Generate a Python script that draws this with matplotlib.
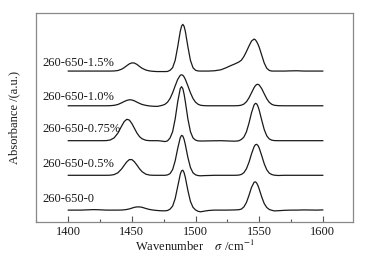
import matplotlib
matplotlib.use("Agg")
import matplotlib.pyplot as plt
from matplotlib.ticker import MultipleLocator

plt.rcParams['font.family'] = ['Liberation Serif', 'DejaVu Serif']
plt.rcParams['mathtext.fontset'] = 'stix'

wavenumber = [1400, 1410, 1420, 1425, 1430, 1433, 1436, 1439, 1442, 1444,
              1446, 1448, 1450, 1452, 1454, 1456, 1458, 1461, 1464, 1467,
              1470, 1472, 1474, 1476, 1478, 1480, 1482, 1484, 1486, 1488,
              1489, 1490, 1491, 1492, 1494, 1496, 1498, 1500, 1502, 1504,
              1507, 1510, 1515, 1520, 1524, 1528, 1531, 1534, 1536, 1538,
              1540, 1542, 1544, 1546, 1547, 1548, 1549, 1550, 1552, 1554,
              1556, 1558, 1560, 1562, 1565, 1570, 1575, 1580, 1585, 1590,
              1595, 1600]

abs_0 = [0, 0, 0.5, 0.3, 0, 0, 0, 0, 0.1, 0.3,
         0.65, 1.2, 2.0, 2.8, 3.2, 3.2, 2.8, 1.6, 0.6, 0.0,
         -0.4, -0.6, -0.7, -0.7, -0.4, 1.0, 4.0, 11.5, 23.6, 35.8,
         39.2, 39.9, 37.5, 32.6, 19.6, 8.7, 2.8, 0.2, -1.2, -1.7,
         -1.0, -0.4, 0, 0, 0, 0.1, 0.2, 0.4, 1.0, 3.2,
         7.6, 14.7, 22.7, 27.8, 28.3, 27.2, 24.7, 21.2, 13.2, 6.5,
         2.6, 0.6, -0.2, -0.8, -0.6, -0.2, 0, 0, 0.2, 0.1,
         0, 0.2]

abs_05 = [0, 0, 0, 0, 0, 0.1, 0.7, 2.5, 6.5, 10.1,
          13.5, 15.7, 15.7, 13.5, 10.1, 6.5, 3.6, 1.1, 0.2, 0,
          0, 0, 0, 0, 0.4, 1.7, 5.7, 14.4, 26.9, 37.6,
          39.9, 39.3, 36.0, 30.6, 17.8, 7.8, 2.5, 0.5, -0.3, -0.5,
          -0.3, -0.2, 0, 0, 0, 0, 0, 0.2, 0.85, 2.6,
          6.5, 13.0, 21.4, 28.5, 30.5, 31.0, 29.9, 27.4, 19.7, 11.5,
          5.5, 2.1, 0.7, 0.1, -0.2, 0, 0, 0, 0, 0,
          0, 0]

abs_075 = [0, 0, 0, 0, 0.1, 0.7, 2.8, 7.6, 14.8, 19.2,
           21.4, 20.6, 17.1, 12.3, 7.6, 4.0, 1.9, 0.4, 0, 0,
           0, -0.2, -0.5, -0.9, -0.2, 2.8, 9.0, 21.7, 38.9, 52.1,
           54.0, 52.1, 46.6, 38.9, 21.7, 9.0, 2.8, 0.6, -0.2, -0.3,
           -0.3, -0.2, -0.1, 0, -0.2, -0.4, -0.5, -0.1, 1.2, 3.6,
           8.8, 17.5, 27.9, 35.7, 37.3, 36.9, 34.6, 30.7, 20.6, 11.1,
           4.8, 1.7, 0.5, 0.1, 0, 0, 0, 0, 0, 0,
           0, 0]

abs_10 = [0, 0, 0, 0, 0, 0.1, 0.45, 1.3, 3.0, 4.3,
          5.4, 6.0, 5.8, 4.9, 3.6, 2.4, 1.3, 0.4, -0.2, -0.5,
          -0.6, -0.1, 0.5, 1.5, 3.6, 7.3, 13.0, 19.9, 26.4, 30.5,
          31.0, 30.5, 28.9, 26.4, 19.9, 13.0, 7.3, 3.6, 1.5, 0.5,
          0.1, 0, 0, 0, 0, 0, 0, 0.2, 0.6, 1.7,
          4.0, 7.9, 13.0, 18.1, 20.0, 21.2, 21.5, 20.8, 17.2, 12.0,
          7.0, 3.4, 1.4, 0.5, 0.1, 0, 0, 0, 0, 0,
          0, 0]

abs_15 = [0, 0, 0, 0, 0, 0, 0.1, 0.56, 1.9, 3.5,
          5.4, 7.2, 8.2, 8.0, 6.6, 4.6, 2.8, 1.0, 0.1, -0.3,
          -0.5, -0.5, -0.5, -0.5, -0.4, 0.8, 3.4, 10.7, 24.3, 39.7,
          44.8, 46.7, 44.8, 39.7, 24.3, 10.7, 3.4, 0.8, 0.1, 0,
          0, 0, 0.3, 1.3, 3.3, 5.6, 7.2, 9.0, 10.8, 14.5,
          19.5, 25.0, 30.0, 32.0, 31.3, 29.5, 27.0, 24.0, 16.0, 8.0,
          2.8, 0.6, 0, 0, 0, 0, 0.2, 0.3, 0, 0,
          0, 0]

labels = ['260-650-0', '260-650-0.5%', '260-650-0.75%', '260-650-1.0%', '260-650-1.5%']
series = [abs_0, abs_05, abs_075, abs_10, abs_15]
offsets = [12, 46.8, 81.4, 116.3, 151]
label_y = [23, 58, 92.7, 124.7, 159.3]

fig = plt.figure(figsize=(3.67, 2.61), dpi=100)
ax = fig.add_axes([0.098, 0.149, 0.864, 0.801])

for ys, off in zip(series, offsets):
    ax.plot(wavenumber, [v + off for v in ys], color='#1a1a1a', lw=0.9)

for lab, ly in zip(labels, label_y):
    ax.text(1379.9, ly, lab, ha='left', va='center', fontsize=9, color='#1a1a1a')

ax.set_xlim(1374.6, 1623.8)
ax.set_ylim(0, 209)
ax.set_yticks([])
ax.xaxis.set_major_locator(MultipleLocator(50))
ax.xaxis.set_minor_locator(MultipleLocator(25))
ax.set_xticks([1400, 1450, 1500, 1550, 1600])
ax.tick_params(axis='x', which='major', direction='in', length=4, width=0.8,
               color='#555555', labelsize=9, pad=3, labelcolor='#1a1a1a')
ax.tick_params(axis='x', which='minor', direction='in', length=2.5, width=0.8, color='#555555')
for s in ax.spines.values():
    s.set_color('#888888')
    s.set_linewidth(0.9)

ax.set_xlabel(r'Wavenumber    $\sigma$ /cm$^{-1}$', fontsize=9, labelpad=0.5, color='#1a1a1a')
ax.set_ylabel('Absorbance /(a.u.)', fontsize=9, labelpad=11, color='#1a1a1a')

fig.savefig('out.png', dpi=100)
